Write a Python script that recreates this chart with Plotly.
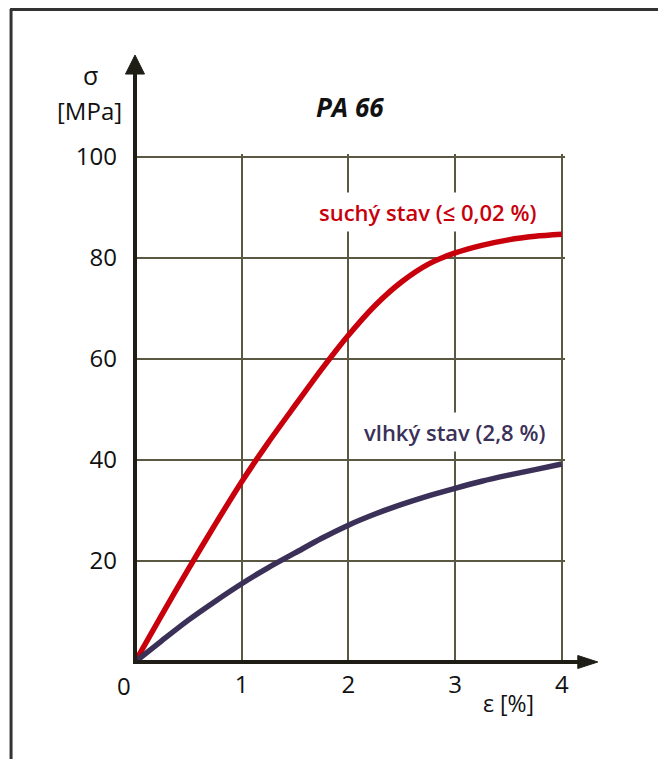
import plotly.graph_objects as go

# ---- data ----
strain = [0, 0.25, 0.5, 0.75, 1.0, 1.25, 1.5, 1.75, 2.0, 2.25, 2.5, 2.75, 3.0, 3.25, 3.5, 3.75, 4.0]
stress_dry = [0, 9.3, 18.4, 27.2, 35.7, 43.5, 50.8, 58.0, 64.7, 70.6, 75.3, 78.8, 81.0, 82.5, 83.6, 84.3, 84.7]
stress_wet = [0, 4.2, 8.3, 12.0, 15.5, 18.7, 21.6, 24.5, 27.1, 29.3, 31.2, 32.9, 34.4, 35.8, 37.0, 38.1, 39.2]
x_ticks = [1, 2, 3, 4]
y_ticks = [20, 40, 60, 80, 100]
label_dry = "suchý stav (≤ 0,02 %)"
label_wet = "vlhký stav (2,8 %)"
title_text = "PA 66"

# the page body has an 8px default margin: the figure is placed at (8, 8)
OFF = 8
W, H = 666 - OFF, 759 - OFF
# window pixels of x=0, x=4, y=0, y=100
X0, X4, Y0, Y100 = 135, 562, 662, 157
XMAX, YMAX = 4.03, 100.6          # tiny headroom so the edge grid lines are drawn
SX = (X4 - X0) / 4
SY = (Y0 - Y100) / 100
L = X0 - OFF
R = X0 + XMAX * SX - OFF
B = Y0 - OFF
T = Y0 - YMAX * SY - OFF


def px(X):
    """window pixel x -> paper x"""
    return (X - OFF - L) / (R - L)


def py(Y):
    """window pixel y -> paper y"""
    return (B - (Y - OFF)) / (B - T)


FONT = "'Open Sans', 'Liberation Sans', Arial, sans-serif"
RED = "#c8000c"
PURPLE = "#3b3158"
GRID = "#5a5742"
AXIS = "#1e1e16"
TXT = "#111111"

fig = go.Figure()
fig.add_trace(go.Scatter(x=strain, y=stress_dry, mode="lines",
                         line=dict(color=RED, width=5.5, shape="spline", smoothing=0.8),
                         hoverinfo="skip", showlegend=False))
fig.add_trace(go.Scatter(x=strain, y=stress_wet, mode="lines",
                         line=dict(color=PURPLE, width=5.5, shape="spline", smoothing=0.8),
                         hoverinfo="skip", showlegend=False))

shapes = []
# frame (top + left)
shapes.append(dict(type="line", xref="paper", yref="paper", x0=px(10), x1=px(680), y0=py(9.5), y1=py(9.5),
                   line=dict(color="#333333", width=3)))
shapes.append(dict(type="line", xref="paper", yref="paper", x0=px(11), x1=px(11), y0=py(9), y1=py(775),
                   line=dict(color="#333333", width=3)))
# y axis with arrow
shapes.append(dict(type="line", xref="paper", yref="paper", x0=0, x1=0, y0=py(664), y1=py(72),
                   line=dict(color=AXIS, width=4)))
shapes.append(dict(type="path", xref="paper", yref="paper",
                   path=f"M {px(125.5)} {py(74)} L {px(135)} {py(55)} L {px(144.5)} {py(74)} Z",
                   fillcolor=AXIS, line=dict(color=AXIS, width=1)))
# x axis with arrow
shapes.append(dict(type="line", xref="paper", yref="paper", x0=px(133), x1=px(580), y0=0, y1=0,
                   line=dict(color=AXIS, width=4)))
shapes.append(dict(type="path", xref="paper", yref="paper",
                   path=f"M {px(578)} {py(655.5)} L {px(598)} {py(662)} L {px(578)} {py(668.5)} Z",
                   fillcolor=AXIS, line=dict(color=AXIS, width=1)))

annotations = [
    dict(text="σ", x=px(90), y=py(75), font=dict(size=25)),
    dict(text="[MPa]", x=px(89), y=py(110), font=dict(size=24)),
    dict(text=f"<b><i>{title_text}</i></b>", x=px(350), y=py(107), font=dict(size=26)),
    dict(text=label_dry, x=px(428), y=py(212), font=dict(size=22, color=RED, weight=600),
         bgcolor="white", borderpad=4),
    dict(text=label_wet, x=px(455), y=py(432), font=dict(size=22, color=PURPLE, weight=600),
         bgcolor="white", borderpad=4),
    dict(text="ε [%]", x=px(509), y=py(703), font=dict(size=23)),
    dict(text="0", x=px(124), y=py(686), font=dict(size=24)),
]
for a in annotations:
    a.update(xref="paper", yref="paper", showarrow=False, xanchor="center", yanchor="middle")
    a["font"].setdefault("color", TXT)
    a["font"]["family"] = FONT

fig.update_layout(
    width=W, height=H,
    margin=dict(l=L, r=W - R, t=T, b=H - B, pad=0),
    paper_bgcolor="white", plot_bgcolor="white",
    showlegend=False,
    font=dict(family=FONT, color=TXT),
    xaxis=dict(range=[0, XMAX], tickvals=x_ticks, ticktext=[str(v) for v in x_ticks],
               showgrid=True, gridcolor=GRID, gridwidth=2, zeroline=False, showline=False,
               ticks="", tickfont=dict(size=24, color=TXT), ticklabelstandoff=6, fixedrange=True),
    yaxis=dict(range=[0, YMAX], tickvals=y_ticks, ticktext=[str(v) for v in y_ticks],
               showgrid=True, gridcolor=GRID, gridwidth=2, zeroline=False, showline=False,
               ticks="", tickfont=dict(size=24, color=TXT), ticklabelstandoff=17, fixedrange=True),
    shapes=shapes,
    annotations=annotations,
)

fig.write_html("out.html", config=dict(displayModeBar=False))
